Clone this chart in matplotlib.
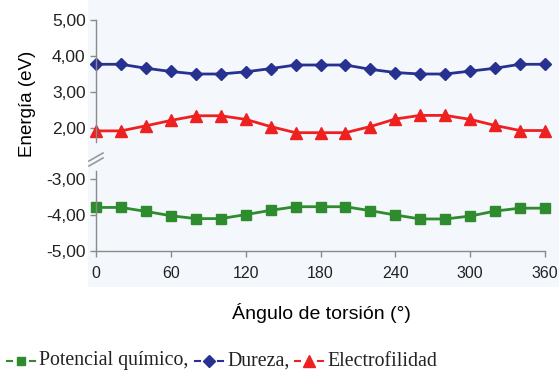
import matplotlib
matplotlib.use('Agg')
import matplotlib.pyplot as plt
from matplotlib.lines import Line2D
from matplotlib.patches import Rectangle

# datos
angulo = [0, 20, 40, 60, 80, 100, 120, 140, 160, 180, 200, 220, 240, 260, 280, 300, 320, 340, 360]
dureza = [3.77, 3.77, 3.66, 3.57, 3.50, 3.50, 3.56, 3.65, 3.75, 3.75, 3.75, 3.63, 3.54, 3.50, 3.50, 3.58, 3.66, 3.77, 3.77]
electrofilidad = [1.92, 1.92, 2.06, 2.21, 2.34, 2.34, 2.24, 2.04, 1.87, 1.87, 1.87, 2.04, 2.25, 2.35, 2.35, 2.24, 2.07, 1.93, 1.93]
potencial = [-3.79, -3.79, -3.90, -4.02, -4.10, -4.10, -3.99, -3.87, -3.77, -3.77, -3.77, -3.88, -4.00, -4.11, -4.11, -4.03, -3.89, -3.81, -3.81]

xticks = [0, 60, 120, 180, 240, 300, 360]
yticks_top = [2.0, 3.0, 4.0, 5.0]
yticks_bot = [-5.0, -4.0, -3.0]

c_green = '#2e8b2e'
c_blue = '#27318f'
c_red = '#ee2020'
c_axis = '#8a8a8a'
bg = '#f4f8fc'

plt.rcParams['font.family'] = ['Liberation Sans', 'DejaVu Sans']

fig = plt.figure(figsize=(5.59, 3.73), dpi=100)
W, H = 559.0, 373.0

# fondo claro
fig.add_artist(Rectangle((88 / W, 1 - 287 / H), 1 - 88 / W, 287 / H,
                         transform=fig.transFigure, facecolor=bg, edgecolor='none', zorder=-5))

left = 96 / W
width = (545 - 96) / W
ax1 = fig.add_axes([left, 1 - 142 / H, width, (142 - 20) / H])
ax2 = fig.add_axes([left, 1 - 251 / H, width, (251 - 171) / H])

for ax in (ax1, ax2):
    ax.set_facecolor('none')
    ax.set_xlim(0, 360)
    for s in ['top', 'right']:
        ax.spines[s].set_visible(False)
    ax.spines['left'].set_color(c_axis)
    ax.spines['bottom'].set_color(c_axis)
    ax.spines['left'].set_linewidth(1.0)
    ax.spines['bottom'].set_linewidth(1.0)
    ax.tick_params(colors=c_axis, labelcolor='#222222', labelsize=12.5, length=4, width=1)

ax1.plot(angulo, dureza, color=c_blue, marker='D', markersize=6, linewidth=2, clip_on=False)
ax1.plot(angulo, electrofilidad, color=c_red, marker='^', markersize=8, linewidth=2, clip_on=False)
ax1.set_ylim(5.0 - (142 - 20) / 36.0, 5.0)
ax1.set_yticks(yticks_top)
ax1.set_yticklabels([('%.2f' % v).replace('.', ',') for v in yticks_top])
ax1.spines['bottom'].set_visible(False)
ax1.set_xticks([])

ax2.plot(angulo, potencial, color=c_green, marker='s', markersize=7, linewidth=2, clip_on=False)
ax2.set_ylim(-5.0, -5.0 + (251 - 171) / 36.0)
ax2.set_yticks(yticks_bot)
ax2.set_yticklabels([('%.2f' % v).replace('.', ',') for v in yticks_bot])
ax2.set_xticks(xticks)
ax2.set_xticklabels([str(v) for v in xticks])
ax2.tick_params(axis='x', pad=7, labelsize=11.5)

# marcas de corte
for dy in (0, 5):
    fig.add_artist(Line2D([89 / W, 103 / W], [1 - (164 + dy - 3) / H, 1 - (156 + dy - 3) / H],
                          transform=fig.transFigure, color='#999999', linewidth=1.2))

fig.text(28 / W, 1 - 104 / H, 'Energía (eV)', rotation=90, ha='center', va='center', fontsize=13.5)
fig.text(321 / W, 1 - 313 / H, 'Ángulo de torsión (°)', ha='center', va='center', fontsize=14)

# leyenda inferior
ly = 1 - 361 / H
serif = ['Liberation Serif', 'DejaVu Serif']
items = [(7, c_green, 's', 6, 'Potencial químico,'),
         (195, c_blue, 'D', 6.5, 'Dureza,'),
         (295, c_red, '^', 8, 'Electrofilidad')]
for x0, col, mk, ms, txt in items:
    for a, b in ((x0, x0 + 5), (x0 + 23, x0 + 28)):
        fig.add_artist(Line2D([a / W, b / W], [ly, ly], transform=fig.transFigure,
                              color=col, linewidth=1.5))
    fig.add_artist(Line2D([(x0 + 14) / W], [ly], transform=fig.transFigure, color=col,
                          marker=mk, markersize=ms, linestyle='none'))
    fig.text((x0 + 32) / W, ly, txt, ha='left', va='center', fontsize=14.3, family=serif, color='#222222')

fig.savefig('out.png', dpi=100)
